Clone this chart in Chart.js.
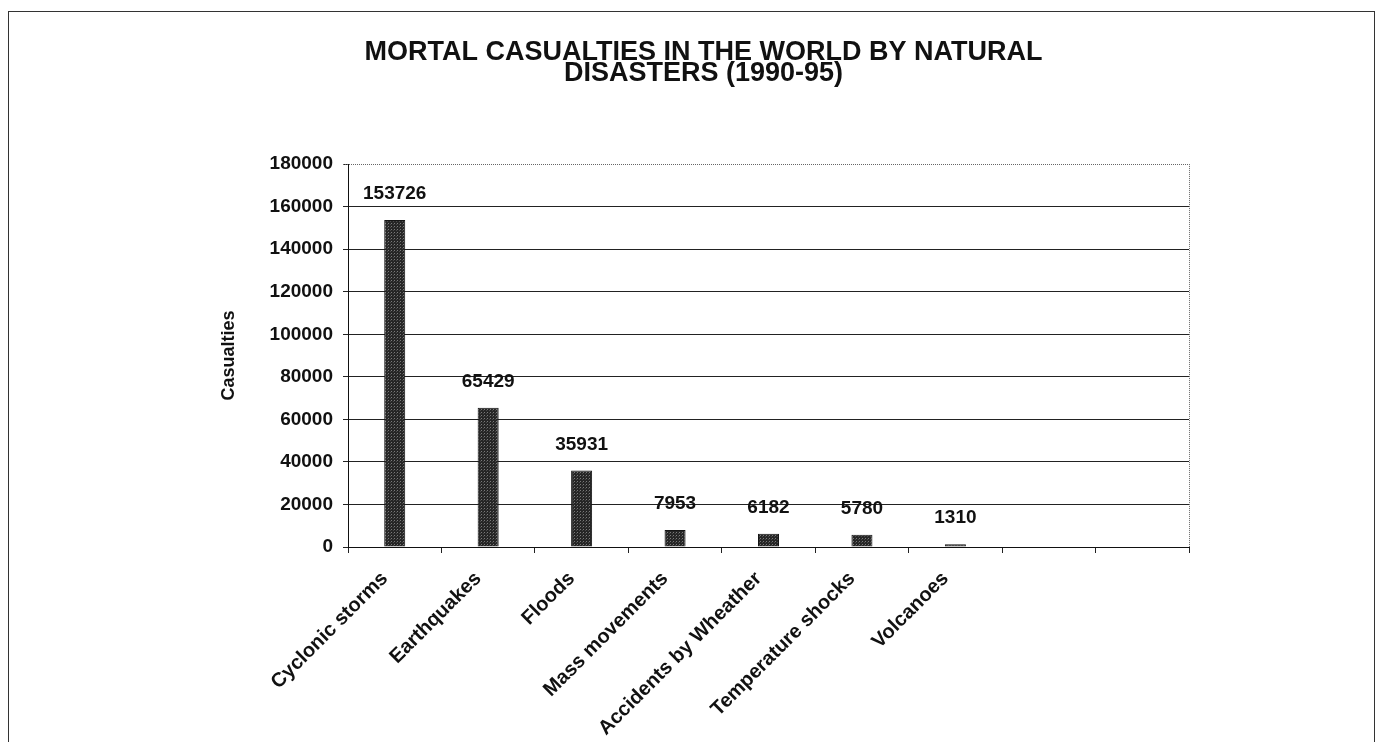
<!DOCTYPE html>
<html>
<head>
<meta charset="utf-8">
<script src="https://cdn.jsdelivr.net/npm/chart.js@4/dist/chart.umd.min.js"></script>
<style>
  html, body { margin: 0; padding: 0; background: #fff; overflow: hidden; }
  #frame { position: absolute; left: 8px; top: 11px; width: 1365px; height: 760px;
           border: 1px solid #333; border-bottom: none; }
  #wrap { position: absolute; left: 0; top: 0; width: 1382px; height: 742px; }
</style>
</head>
<body>
<div id="frame"></div>
<div id="wrap"><canvas id="c" width="1382" height="742"></canvas></div>
<script>
// ---- data ----
const categories = ['Cyclonic storms', 'Earthquakes', 'Floods', 'Mass movements',
  'Accidents by Wheather', 'Temperature shocks', 'Volcanoes', '', ''];
const casualties = [153726, 65429, 35931, 7953, 6182, 5780, 1310, null, null];
const yTicks = [0, 20000, 40000, 60000, 80000, 100000, 120000, 140000, 160000, 180000];
const titleLines = ['MORTAL CASUALTIES IN THE WORLD BY NATURAL', 'DISASTERS (1990-95)'];
const yTitle = 'Casualties';

// ---- bar texture ----
const pc = document.createElement('canvas');
pc.width = 3; pc.height = 3;
const pctx = pc.getContext('2d');
pctx.fillStyle = '#262626'; pctx.fillRect(0, 0, 3, 3);
pctx.fillStyle = '#7a7a7a'; pctx.fillRect(1, 1, 1, 1);
pctx.fillStyle = '#4a4a4a'; pctx.fillRect(0, 2, 1, 1);
const canvas = document.getElementById('c');
const ctx = canvas.getContext('2d');
const pattern = ctx.createPattern(pc, 'repeat');

const FONT = "'Liberation Sans', Arial, sans-serif";

const valueLabels = {
  id: 'valueLabels',
  afterDatasetsDraw(chart) {
    const c = chart.ctx;
    const meta = chart.getDatasetMeta(0);
    c.save();
    c.font = "bold 19px " + FONT;
    c.fillStyle = '#111';
    c.textAlign = 'center';
    c.textBaseline = 'middle';
    meta.data.forEach((bar, i) => {
      const v = casualties[i];
      if (v === null || v === undefined) return;
      c.fillText(String(v), bar.x, bar.y - 26);
    });
    c.restore();
  }
};

const frameLines = {
  id: 'frameLines',
  beforeDatasetsDraw(chart) {
    const a = chart.chartArea;
    const c = chart.ctx;
    c.save();
    c.strokeStyle = '#666';
    c.lineWidth = 1;
    c.setLineDash([1, 1]);
    c.beginPath();
    c.moveTo(a.left - 5, Math.round(a.top) + 0.5);
    c.lineTo(a.right, Math.round(a.top) + 0.5);
    c.moveTo(Math.round(a.right) + 0.5, a.top);
    c.lineTo(Math.round(a.right) + 0.5, a.bottom);
    c.stroke();
    c.restore();
  }
};

new Chart(canvas, {
  type: 'bar',
  data: {
    labels: categories,
    datasets: [{
      data: casualties,
      backgroundColor: pattern,
      borderColor: '#151515',
      borderWidth: 1,
      barPercentage: 0.225,
      categoryPercentage: 1.0
    }]
  },
  options: {
    responsive: false,
    animation: false,
    layout: { padding: { left: 218, right: 193, top: 0, bottom: 0 } },
    plugins: {
      legend: { display: false },
      tooltip: { enabled: false },
      title: {
        display: true,
        text: titleLines,
        color: '#111',
        font: { family: FONT, size: 27, weight: 'bold', lineHeight: 0.78 },
        padding: { top: 42, bottom: 80 }
      }
    },
    scales: {
      x: {
        grid: { display: true, drawOnChartArea: false, drawTicks: true, tickLength: 6,
                offset: true, color: '#222', tickColor: '#222' },
        border: { display: true, color: '#111', width: 1 },
        ticks: {
          autoSkip: false, maxRotation: 45, minRotation: 45,
          color: '#111', padding: 14, labelOffset: -10,
          font: { family: FONT, size: 20, weight: 'bold' }
        },
        afterFit(scale) { scale.height = 195; }
      },
      y: {
        min: 0, max: 180000,
        afterBuildTicks(scale) { scale.ticks = yTicks.map(v => ({ value: v })); },
        grid: {
          drawTicks: true, tickLength: 5, tickColor: '#222', lineWidth: 1,
          color: (ctx) => (ctx.tick && ctx.tick.value === 180000) ? 'rgba(0,0,0,0)' : '#222'
        },
        border: { display: true, color: '#111', width: 1 },
        ticks: {
          color: '#111', padding: 10,
          callback: (v) => String(v),
          font: { family: FONT, size: 19, weight: 'bold' }
        },
        title: {
          display: true, text: yTitle, color: '#111', padding: 0,
          font: { family: FONT, size: 18, weight: 'bold' }
        },
        afterFit(scale) { scale.width = 130; }
      }
    }
  },
  plugins: [frameLines, valueLabels]
});
</script>
</body>
</html>
